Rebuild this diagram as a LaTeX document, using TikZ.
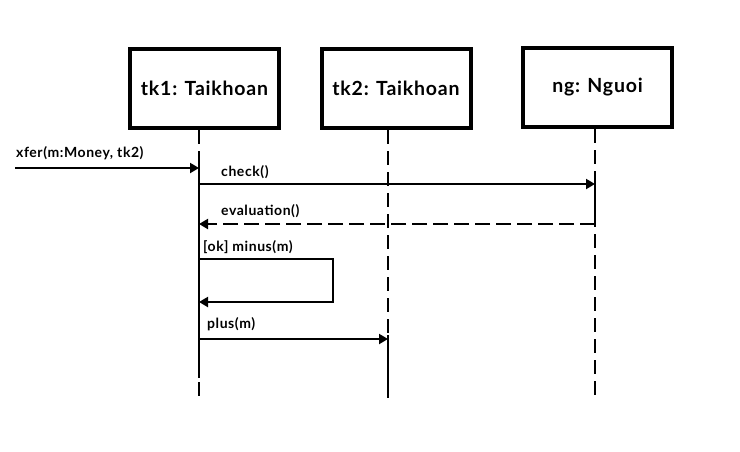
\documentclass[tikz,border=0pt]{standalone}
\usepackage{fontspec}
\setmainfont{Lato}[LetterSpace=4]
\usetikzlibrary{arrows.meta}
\begin{document}
\begin{tikzpicture}
        [x=1pt, y=-1pt,
        obj/.style={draw=black, line width=4pt, minimum width=149pt, minimum height=79pt, inner sep=0pt, font=\fontsize{19.5}{22}\selectfont\bfseries},
        life/.style={line width=2.5pt, dash pattern=on 14pt off 7pt},
        active/.style={line width=2.5pt},
        msg/.style={line width=2pt, -{Triangle[length=9pt,width=10pt]}},
        reply/.style={msg, dash pattern=on 15pt off 6pt},
        lbl/.style={font=\fontsize{14}{16}\selectfont\bfseries, anchor=base west, inner sep=0pt},
        ]
        \useasboundingbox (0,0) rectangle (740,451);
        \node[obj] (tk1) at (204.5,88.5) {tk1: Taikhoan};
        \node[obj] (tk2) at (396,88.5) {tk2: Taikhoan};
        \node[obj] (ng) at (597.5,87) {ng: Nguoi};
        \coordinate (tk1top) at (199,130);
        \coordinate (tk1bot) at (199,398);
        \coordinate (tk2top) at (388,130);
        \coordinate (tk2bot) at (388,398);
        \coordinate (ngtop) at (595,129);
        \coordinate (ngbot) at (595,398);
        \draw[life] (tk1top) -- (tk1bot);
        \draw[life] (tk2top) -- (tk2bot);
        \draw[life] (ngtop) -- (ngbot);
        \draw[active] (199,165) -- (199,378);
        \draw[active] (388,335) -- (tk2bot);
        \draw[active] (595,180) -- (595,226);
        \coordinate (start) at (15,168);
        \draw[msg] (start) -- (start -| tk1top);
        \draw[msg] (199,184) -- (595,184);
        \draw[reply] (595,224) -- (199,224);
        \draw[msg] (199,259) -- (333,259) -- (333,302) -- (199,302);
        \draw[msg] (199,339) -- (388,339);
        \node[lbl] (xfer) at (16,157) {xfer(m:Money, tk2)};
        \node[lbl] (check) at (221,176) {check()};
        \node[lbl] (eval) at (221,215) {evaluation()};
        \node[lbl] (minus) at (203,251) {[ok] minus(m)};
        \node[lbl] (plus) at (207,328) {plus(m)};
\end{tikzpicture}
\end{document}
